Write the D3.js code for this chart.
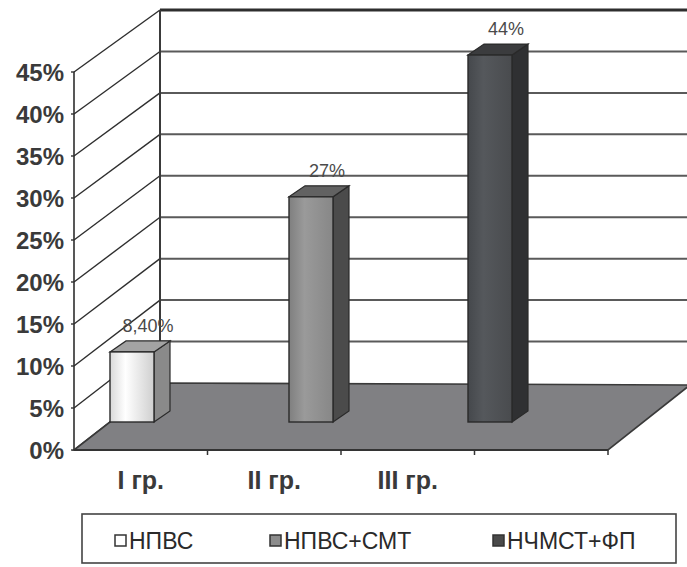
<!DOCTYPE html>
<html>
<head>
<meta charset="utf-8">
<script src="https://cdn.jsdelivr.net/npm/d3@7"></script>
<style>
  html, body { margin: 0; padding: 0; background: #fff; }
  svg { display: block; }
  text { font-family: "Liberation Sans", Arial, sans-serif; }
</style>
</head>
<body>
<svg id="chart" width="687" height="567"></svg>
<script>
// Chart data
const categories = ["I гр.", "II гр.", "III гр.", ""];
const series = ["НПВС", "НПВС+СМТ", "НЧМСТ+ФП"];
const values = [8.4, 27, 44];
const valueLabels = ["8,40%", "27%", "44%"];
const yTicks = [0, 5, 10, 15, 20, 25, 30, 35, 40, 45];

// Colours per series: front face (gradient stops), side, top
const frontStops = [
  ["#d9d9d9", "#ffffff", "#cfcfcf"],
  ["#7f7f7f", "#9a9a9a", "#878787"],
  ["#45484c", "#55585c", "#494b4e"]
];
const sideColors = ["#8a8a8a", "#4b4b4b", "#2f3032"];
const topColors = ["#a3a3a3", "#626262", "#3b3c3e"];
const legendFill = ["#ffffff", "#8c8c8c", "#4a4a4a"];

const svg = d3.select("#chart");
const defs = svg.append("defs");

// 3D box geometry
const xFrontL = 74, xBackL = 160, xFrontR = 608, xBackR = 690;
const yFront = d3.scaleLinear().domain([0, 45]).range([450, 72]);
const yBack = d3.scaleLinear().domain([0, 45]).range([383, 10]);
const yBar = d3.scaleLinear().domain([0, 45]).range([422, 422 - 45 * 8.34]);

// Category slots along the front floor edge
const xCat = d3.scaleBand().domain(categories).range([xFrontL, xFrontR]).padding(0);
// Bar positions (one bar per series, placed in depth)
const xBar = d3.scalePoint().domain(series).range([132, 490]);
const barW = 44, depthX = 16, depthY = -11;

// Back wall
svg.append("rect").attr("x", xBackL).attr("y", yBack(45)).attr("width", 687 - xBackL)
  .attr("height", yBack(0) - yBack(45)).attr("fill", "#fff");

// Back wall gridlines
svg.append("g").selectAll("line").data(yTicks.filter(d => d > 0 && d < 45)).join("line")
  .attr("x1", xBackL).attr("x2", 687)
  .attr("y1", d => yBack(d)).attr("y2", d => yBack(d))
  .attr("stroke", "#5a5a5a").attr("stroke-width", 2);
svg.append("line").attr("x1", xBackL).attr("x2", 687)
  .attr("y1", yBack(45)).attr("y2", yBack(45))
  .attr("stroke", "#2e2e2e").attr("stroke-width", 3);

// Side wall gridlines (diagonals)
svg.append("g").selectAll("line").data(yTicks).join("line")
  .attr("x1", xFrontL).attr("y1", d => yFront(d))
  .attr("x2", xBackL).attr("y2", d => yBack(d))
  .attr("stroke", "#2e2e2e").attr("stroke-width", 1.4);

// Wall edges
svg.append("line").attr("x1", xBackL).attr("x2", xBackL).attr("y1", yBack(45)).attr("y2", yBack(0))
  .attr("stroke", "#3a3a3a").attr("stroke-width", 2);
svg.append("line").attr("x1", xFrontL).attr("x2", xFrontL).attr("y1", yFront(45)).attr("y2", yFront(0))
  .attr("stroke", "#2e2e2e").attr("stroke-width", 1.6);

// Floor
svg.append("path")
  .attr("d", d3.line()([[xFrontL, yFront(0)], [xBackL, yBack(0)], [xBackR, yBack(0) + 2], [xFrontR, yFront(0)]]) + "Z")
  .attr("fill", "#808083").attr("stroke", "#3a3a3a").attr("stroke-width", 1.6);
svg.append("line").attr("x1", xFrontL).attr("x2", xFrontR).attr("y1", yFront(0)).attr("y2", yFront(0))
  .attr("stroke", "#333").attr("stroke-width", 2);

// Tick marks on the front floor edge
svg.append("g").selectAll("line").data(categories.slice(1).concat(["end"])).join("line")
  .attr("x1", (d, i) => i < 3 ? xCat(d) : xFrontR).attr("x2", (d, i) => i < 3 ? xCat(d) : xFrontR)
  .attr("y1", yFront(0)).attr("y2", yFront(0) + 5)
  .attr("stroke", "#333").attr("stroke-width", 1.5);
// Small tick marks on the value axis
svg.append("g").selectAll("line").data(yTicks).join("line")
  .attr("x1", xFrontL - 3).attr("x2", xFrontL)
  .attr("y1", d => yFront(d)).attr("y2", d => yFront(d))
  .attr("stroke", "#333").attr("stroke-width", 1.4);

// Value axis labels
svg.append("g").selectAll("text").data(yTicks).join("text")
  .attr("x", 64).attr("y", d => yFront(d) + 9)
  .attr("text-anchor", "end").attr("font-size", 24).attr("font-weight", "bold")
  .attr("fill", "#3a3a3a")
  .text(d => d + "%");

// Category labels
svg.append("g").selectAll("text").data(categories.filter(d => d)).join("text")
  .attr("x", d => xCat(d) + xCat.bandwidth() / 2).attr("y", 489)
  .attr("text-anchor", "middle").attr("font-size", 25).attr("font-weight", "bold")
  .attr("fill", "#3a3a3a")
  .text(d => d);

// Gradients for bar fronts
series.forEach((s, i) => {
  const g = defs.append("linearGradient").attr("id", "grad" + i)
    .attr("x1", "0%").attr("x2", "100%").attr("y1", "0%").attr("y2", "0%");
  g.append("stop").attr("offset", "0%").attr("stop-color", frontStops[i][0]);
  g.append("stop").attr("offset", "35%").attr("stop-color", frontStops[i][1]);
  g.append("stop").attr("offset", "100%").attr("stop-color", frontStops[i][2]);
});

// Bars
const bars = svg.append("g").selectAll("g").data(values).join("g");
bars.each(function (v, i) {
  const g = d3.select(this);
  const x0 = xBar(series[i]) - barW / 2, x1 = x0 + barW;
  const yb = yBar(0), yt = yBar(v);
  // side face
  g.append("path")
    .attr("d", d3.line()([[x1, yb], [x1 + depthX, yb + depthY], [x1 + depthX, yt + depthY], [x1, yt]]) + "Z")
    .attr("fill", sideColors[i]).attr("stroke", "#2a2a2a").attr("stroke-width", 1.2);
  // top face
  g.append("path")
    .attr("d", d3.line()([[x0, yt], [x0 + depthX, yt + depthY], [x1 + depthX, yt + depthY], [x1, yt]]) + "Z")
    .attr("fill", topColors[i]).attr("stroke", "#2a2a2a").attr("stroke-width", 1.2);
  // front face
  g.append("rect").attr("x", x0).attr("y", yt).attr("width", barW).attr("height", yb - yt)
    .attr("fill", `url(#grad${i})`).attr("stroke", "#2a2a2a").attr("stroke-width", 1.4);
  // value label
  g.append("text")
    .attr("x", xBar(series[i]) + depthX).attr("y", yt + depthY - 9)
    .attr("text-anchor", "middle").attr("font-size", 18)
    .attr("fill", "#4a4a4a")
    .text(valueLabels[i]);
});

// Legend
const legend = svg.append("g");
legend.append("rect").attr("x", 82).attr("y", 514).attr("width", 594).attr("height", 49)
  .attr("fill", "#fff").attr("stroke", "#444").attr("stroke-width", 1.6);
const legendX = [115, 270, 493];
const items = legend.selectAll("g").data(series).join("g")
  .attr("transform", (d, i) => `translate(${legendX[i]},541)`);
items.append("rect").attr("x", 0).attr("y", -6).attr("width", 11).attr("height", 11)
  .attr("fill", (d, i) => legendFill[i]).attr("stroke", "#333").attr("stroke-width", 1.5);
items.append("text").attr("x", 14).attr("y", 8)
  .attr("font-size", 23).attr("fill", "#2a2a2a")
  .text(d => d);
</script>
</body>
</html>
